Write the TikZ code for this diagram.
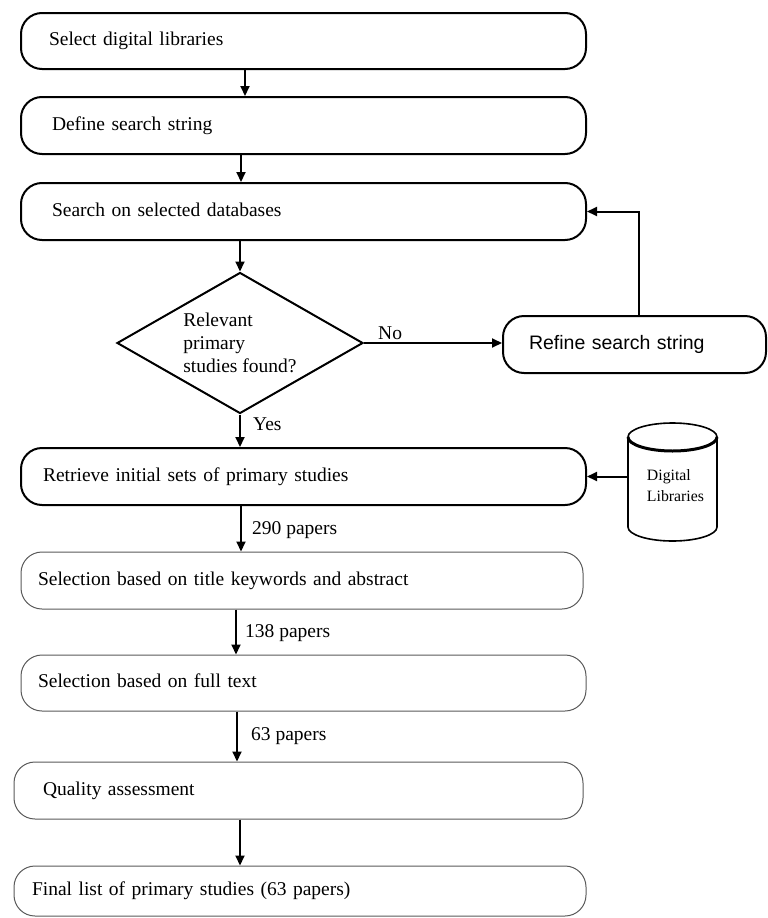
\documentclass[tikz,border=0pt]{standalone}
\usepackage{fontspec}
\setmainfont{Liberation Serif}
\newfontfamily\sansface{Liberation Sans}
\usetikzlibrary{shapes.geometric,arrows.meta}
\begin{document}
\begin{tikzpicture}[x=1pt,y=-1pt,
  font=\fontsize{19.5}{23}\selectfont,
  stagebase/.style={rounded corners=21pt, align=left, inner ysep=0pt,
    text height=13.5pt, text depth=4.5pt},
  stage/.style={stagebase, draw=black, line width=2pt},
  filter/.style={stagebase, draw=black!65, line width=1pt},
  decision/.style={diamond, draw=black, line width=2pt, aspect=1.745,
    minimum width=246pt, minimum height=141pt, inner sep=0pt, align=left},
  flow/.style={line width=2pt, -{Triangle[length=10pt,width=9pt]}},
  lbl/.style={anchor=base west, inner sep=0pt}
]
\useasboundingbox (0,0) rectangle (768,918);

% main process steps
\node[stage, minimum width=565pt, minimum height=56pt, inner xsep=28pt, text width=509pt]
  (select) at (303.5,41) {Select digital libraries};
\node[stage, minimum width=565pt, minimum height=57pt, inner xsep=31pt, text width=503pt]
  (define) at (303.5,125.5) {Define search string};
\node[stage, minimum width=565pt, minimum height=57pt, inner xsep=31pt, text width=503pt]
  (search) at (303.5,211.5) {Search on selected databases};
\node[decision] (dec) at (240,343) {Relevant\\primary\\studies found?};
\node[stage, minimum width=263pt, minimum height=57pt, inner xsep=26pt, text width=211pt,
  font=\sansface\fontsize{19.5}{23}\selectfont]
  (refine) at (634.5,344.5) {Refine search string};
\node[stage, minimum width=565pt, minimum height=57pt, inner xsep=22pt, text width=521pt]
  (retrieve) at (303.5,476.5) {Retrieve initial sets of primary studies};

% selection stages
\node[filter, minimum width=562pt, minimum height=57pt, inner xsep=17pt, text width=528pt]
  (seltitle) at (302,580.5) {Selection based on title keywords and abstract};
\node[filter, minimum width=565pt, minimum height=56pt, inner xsep=17pt, text width=531pt]
  (selfull) at (303.5,683) {Selection based on full text};
\node[filter, minimum width=569pt, minimum height=57pt, inner xsep=29pt, text width=511pt]
  (quality) at (298.5,790.5) {Quality assessment};
\node[filter, minimum width=572pt, minimum height=50pt, inner xsep=18pt, text width=536pt]
  (final) at (300,891) {Final list of primary studies (63 papers)};

% digital libraries store
\node[minimum width=89pt, minimum height=118pt, inner sep=0pt] (dl) at (672.5,482) {};
\draw[line width=1.6pt] (672.5,437) ellipse [x radius=44.5pt, y radius=14pt];
\draw[line width=3pt] (628,437) arc[start angle=180, end angle=360, x radius=44.5pt, y radius=14pt];
\draw[line width=1.6pt] (628,437) -- (628,527)
  arc[start angle=180, end angle=360, x radius=44.5pt, y radius=14pt] -- (717,437);
\node[align=left, inner sep=0pt, font=\fontsize{15.8}{21}\selectfont]
  (dltext) at (675.5,485.5) {Digital\\Libraries};

% arrow columns
\coordinate (c1) at (245,0);
\coordinate (c2) at (241,0);
\coordinate (c5) at (241,0);
\coordinate (c6) at (236,0);
\coordinate (c7) at (237,0);
\coordinate (c8) at (240,0);

% connectors
\draw[flow] (select.south -| c1) -- (define.north -| c1);
\draw[flow] (define.south -| c2) -- (search.north -| c2);
\draw[flow] (search.south -| dec.north) -- (dec.north);
\draw[flow] (dec.east) -- (dec.east -| refine.west);
\draw[flow] ([xshift=4.5pt]refine.north) |- (search.east);
\draw[flow] (dec.south) -- (retrieve.north -| dec.south);
\draw[flow] (retrieve.east -| dl.west) -- (retrieve.east);
\draw[flow] (retrieve.south -| c5) -- (seltitle.north -| c5);
\draw[flow] (seltitle.south -| c6) -- (selfull.north -| c6);
\draw[flow] (selfull.south -| c7) -- (quality.north -| c7);
\draw[flow] (quality.south -| c8) -- (final.north -| c8);

% connector labels
\node[lbl] (nolbl) at (378,339) {No};
\node[lbl] (yeslbl) at (253,430) {Yes};
\node[lbl] (n290) at (252,534) {290 papers};
\node[lbl] (n138) at (245,637) {138 papers};
\node[lbl] (n63) at (251,740) {63 papers};
\end{tikzpicture}
\end{document}
